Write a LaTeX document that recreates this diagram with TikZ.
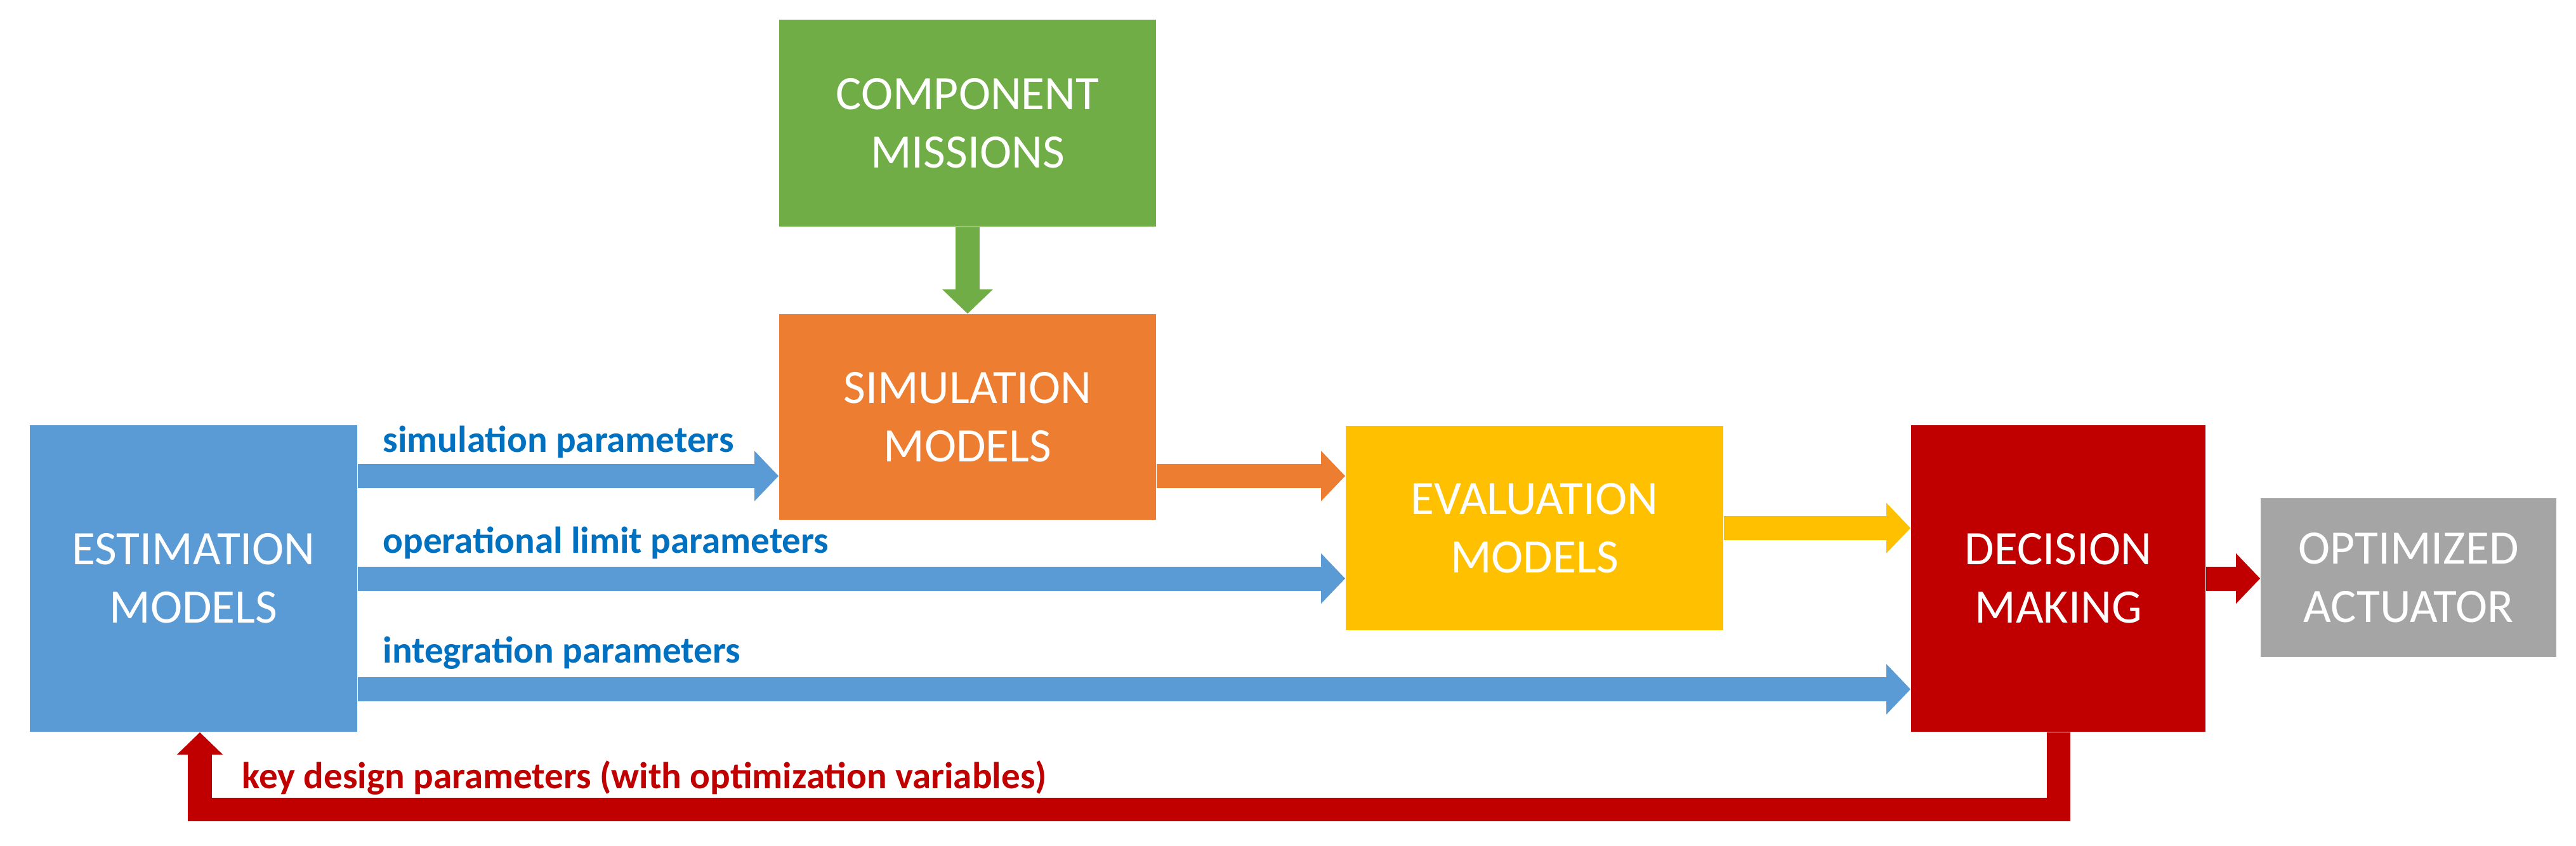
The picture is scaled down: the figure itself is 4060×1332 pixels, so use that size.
\documentclass[tikz,border=0pt]{standalone}
\usepackage{fontspec}
\setmainfont{Carlito}
\usetikzlibrary{arrows.meta, positioning}

\definecolor{estblue}{HTML}{5B9BD5}
\definecolor{labelblue}{HTML}{0070C0}
\definecolor{simorange}{HTML}{ED7D31}
\definecolor{missgreen}{HTML}{70AD47}
\definecolor{evalyellow}{HTML}{FFC000}
\definecolor{decred}{HTML}{C00000}
\definecolor{optgray}{HTML}{A5A5A5}

\begin{document}
\begin{tikzpicture}[x=0.01cm, y=-0.01cm,
    block/.style={rectangle, inner sep=0pt, align=center, text=white,
                  font=\fontsize{21.5}{26.2}\selectfont},
    flow/.style={line width=0.38cm, -{Triangle[length=0.38cm, width=0.77cm]}},
    lbl/.style={anchor=base west, inner sep=0pt,
                font=\fontsize{16.8}{20}\selectfont\bfseries}]

    \useasboundingbox (0,0) rectangle (4060,1332);

    \node [block, fill=missgreen, minimum width=5.94cm, minimum height=3.26cm] (comp) at (1525, 194) {COMPONENT\\MISSIONS};
    \node [block, fill=simorange, minimum width=5.94cm, minimum height=3.24cm] (sim) at (1525, 657) {SIMULATION\\MODELS};
    \node [block, fill=estblue, minimum width=5.16cm, minimum height=4.83cm] (est) at (305, 911.5) {ESTIMATION\\MODELS};
    \node [block, fill=evalyellow, minimum width=5.95cm, minimum height=3.22cm] (eval) at (2418.5, 832) {EVALUATION\\MODELS};
    \node [block, fill=decred, minimum width=4.64cm, minimum height=4.83cm] (dec) at (3244, 911.5) {DECISION\\MAKING};
    \node [block, fill=optgray, minimum width=4.66cm, minimum height=2.50cm] (opt) at (3796, 910) {OPTIMIZED\\ACTUATOR};

    \coordinate (simrow) at (0, 750);
    \coordinate (introw) at (0, 1086);
    \coordinate (back) at (315, 1275);

    \draw [flow, missgreen] (comp.south) -- (sim.north);
    \draw [flow, estblue] (est.east |- simrow) -- (sim.west |- simrow);
    \draw [flow, simorange] (sim.east |- simrow) -- (eval.west |- simrow);
    \draw [flow, estblue] (est.east) -- (eval.west |- est.east);
    \draw [flow, evalyellow] (eval.east) -- (dec.west |- eval.east);
    \draw [flow, estblue] (est.east |- introw) -- (dec.west |- introw);
    \draw [flow, decred] (dec.east) -- (opt.west |- dec.east);
    \draw [flow, decred, line width=0.37cm, -{Triangle[length=0.35cm, width=0.70cm]}]
        (dec.south) |- (back) -- (est.south -| back);

    \node [lbl, labelblue] (simlbl) at (603, 712) {simulation parameters};
    \node [lbl, labelblue] (oplbl) at (603, 871) {operational limit parameters};
    \node [lbl, labelblue] (intlbl) at (603, 1044) {integration parameters};
    \node [lbl, decred] (keylbl) at (381, 1242) {key design parameters (with optimization variables)};

\end{tikzpicture}
\end{document}
